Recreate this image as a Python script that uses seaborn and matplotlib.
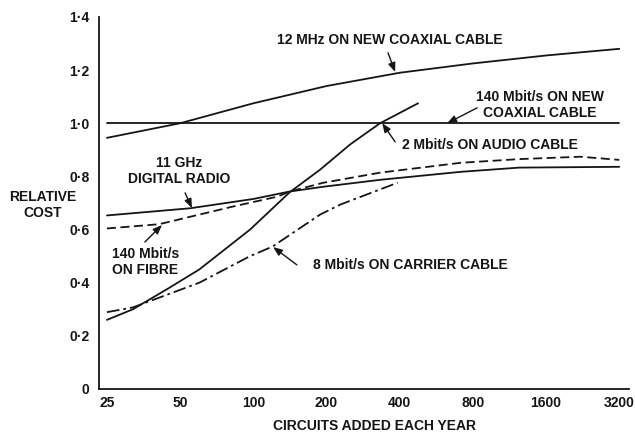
import matplotlib
matplotlib.use("Agg")
import matplotlib.pyplot as plt
import matplotlib.ticker as mticker
import seaborn as sns

# values: circuits added each year vs relative cost
coax12_x = [25, 50, 100, 200, 400, 800, 1600, 3200]
coax12_y = [0.945, 1.0, 1.075, 1.14, 1.19, 1.225, 1.255, 1.28]

coax140_x = [25, 3200]
coax140_y = [1.0, 1.0]

audio2_x = [25, 32, 45, 60, 97, 141, 188, 250, 332, 476]
audio2_y = [0.26, 0.30, 0.38, 0.45, 0.60, 0.74, 0.825, 0.92, 1.0, 1.075]

radio_x = [25, 55, 100, 141, 194, 332, 711, 1240, 3200]
radio_y = [0.653, 0.68, 0.715, 0.743, 0.761, 0.787, 0.817, 0.833, 0.836]

fibre_x = [25, 41, 82, 126, 141, 194, 332, 711, 1240, 2218, 3200]
fibre_y = [0.604, 0.62, 0.686, 0.724, 0.743, 0.776, 0.814, 0.851, 0.865, 0.874, 0.862]

carrier_x = [25, 32, 60, 97, 120, 188, 228, 392]
carrier_y = [0.289, 0.307, 0.40, 0.50, 0.536, 0.656, 0.694, 0.776]

x_ticks = [25, 50, 100, 200, 400, 800, 1600, 3200]
y_ticks = [0, 0.2, 0.4, 0.6, 0.8, 1.0, 1.2, 1.4]
y_tick_labels = ["0", "0·2", "0·4", "0·6", "0·8", "1·0", "1·2", "1·4"]

sns.set_theme(style="white")
plt.rcParams["font.family"] = ["Liberation Sans", "DejaVu Sans"]
plt.rcParams["font.weight"] = "bold"

INK = "#151515"
LW = 1.3
FS = 10

fig = plt.figure(figsize=(6.35, 4.4), dpi=100)
ax = fig.add_axes([0.156, 0.116, 0.835, 0.8455])

# the six cost curves
sns.lineplot(x=coax12_x, y=coax12_y, ax=ax, color=INK, lw=LW)
sns.lineplot(x=coax140_x, y=coax140_y, ax=ax, color=INK, lw=LW)
sns.lineplot(x=audio2_x, y=audio2_y, ax=ax, color=INK, lw=LW)
sns.lineplot(x=radio_x, y=radio_y, ax=ax, color=INK, lw=LW)
sns.lineplot(x=fibre_x, y=fibre_y, ax=ax, color=INK, lw=LW,
             linestyle=(0, (5, 2.5)))
sns.lineplot(x=carrier_x, y=carrier_y, ax=ax, color=INK, lw=LW,
             linestyle=(0, (7, 2.2, 1.5, 2.2)))

ax.set_xscale("log", base=2)
ax.set_xlim(23.2, 3518)
ax.set_ylim(0, 1.4)
ax.set_xticks(x_ticks)
ax.set_xticklabels([str(t) for t in x_ticks])
ax.xaxis.set_minor_locator(mticker.NullLocator())
ax.set_yticks(y_ticks)
ax.set_yticklabels(y_tick_labels)

for side in ["top", "right"]:
    ax.spines[side].set_visible(False)
for side in ["left", "bottom"]:
    ax.spines[side].set_color(INK)
    ax.spines[side].set_linewidth(LW)

ax.tick_params(axis="both", direction="in", length=4, width=1.1,
               colors=INK, labelsize=FS)
ax.tick_params(axis="y", pad=7)
ax.tick_params(axis="x", pad=5)
ax.set_xlabel("")
ax.set_ylabel("")

# curve labels with small arrows
arrow = dict(arrowstyle="-|>,head_length=0.45,head_width=0.18",
             color=INK, lw=1.0, shrinkA=0, shrinkB=0)
txt = dict(fontsize=FS, color=INK, fontweight="bold")

ax.text(365, 1.313, "12 MHz ON NEW COAXIAL CABLE", ha="center", va="center", **txt)
ax.annotate("", xy=(383, 1.193), xytext=(358, 1.265), arrowprops=arrow)

ax.text(1513, 1.069, "140 Mbit/s ON NEW\nCOAXIAL CABLE", ha="center",
        va="center", linespacing=1.2, **txt)
ax.annotate("", xy=(627, 1.0), xytext=(833, 1.058), arrowprops=arrow)

ax.text(409, 0.918, "2 Mbit/s ON AUDIO CABLE", ha="left", va="center", **txt)
ax.annotate("", xy=(339, 1.0), xytext=(383, 0.93), arrowprops=arrow)

ax.text(49.5, 0.82, "11 GHz\nDIGITAL RADIO", ha="center", va="center",
        linespacing=1.2, **txt)
ax.annotate("", xy=(55.9, 0.681), xytext=(52.4, 0.738), arrowprops=arrow)

ax.text(26.2, 0.478, "140 Mbit/s\nON FIBRE", ha="left", va="center",
        linespacing=1.2, **txt)
ax.annotate("", xy=(42.1, 0.617), xytext=(35.8, 0.553), arrowprops=arrow)

ax.text(176, 0.467, "8 Mbit/s ON CARRIER CABLE", ha="left", va="center", **txt)
ax.annotate("", xy=(120.6, 0.534), xytext=(151, 0.467), arrowprops=arrow)

# axis titles
fig.text(43 / 635, 1 - 205 / 440, "RELATIVE\nCOST", ha="center", va="center",
         linespacing=1.2, **txt)
fig.text(375 / 635, 1 - 426 / 440, "CIRCUITS ADDED EACH YEAR", ha="center",
         va="center", **txt)

fig.savefig("out.png", dpi=100, facecolor="white")
